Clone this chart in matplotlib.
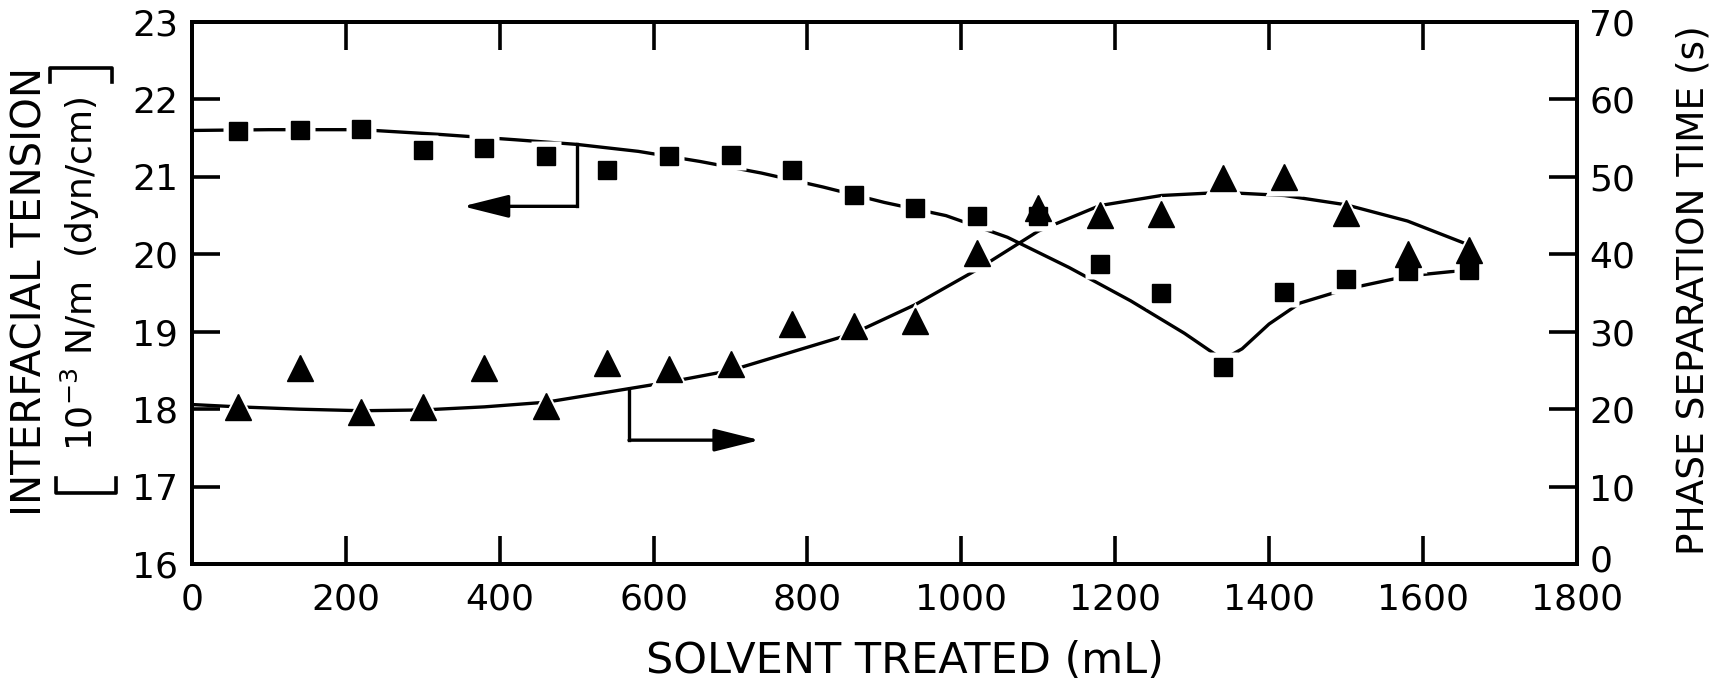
import matplotlib
matplotlib.use("Agg")
import matplotlib.pyplot as plt
import matplotlib.transforms as mtransforms
from matplotlib.lines import Line2D

# measured points (squares: interfacial tension, triangles: phase separation time)
volume = [60, 140, 220, 300, 380, 460, 540, 620, 700, 780, 860, 940, 1020,
          1100, 1180, 1260, 1340, 1420, 1500, 1580, 1660]
tension = [21.59, 21.61, 21.62, 21.35, 21.37, 21.27, 21.09, 21.27, 21.28, 21.09,
           20.77, 20.60, 20.49, 20.50, 19.87, 19.50, 18.55, 19.51, 19.68, 19.78, 19.80]
sep_time = [20.3, 25.3, 19.7, 20.3, 25.3, 20.4, 26.0, 25.2, 25.8, 31.0, 30.8,
            31.4, 40.2, 46.0, 45.1, 45.2, 49.9, 50.0, 45.4, 40.1, 40.6]

# hand-drawn fit curves
fit_vol_t = [0, 100, 220, 320, 420, 500, 580, 660, 740, 820, 900, 980, 1060,
             1140, 1220, 1290, 1340, 1365, 1400, 1440, 1500, 1580, 1660]
fit_tension = [21.60, 21.61, 21.61, 21.55, 21.48, 21.42, 21.33, 21.20, 21.05, 20.87,
               20.67, 20.50, 20.22, 19.83, 19.40, 18.98, 18.64, 18.78, 19.10, 19.37,
               19.55, 19.72, 19.80]
fit_vol_p = [0, 60, 140, 220, 300, 380, 460, 540, 620, 700, 780, 860, 940, 1020,
             1100, 1180, 1260, 1340, 1420, 1500, 1580, 1660]
fit_time = [20.6, 20.3, 20.0, 19.8, 19.9, 20.3, 20.9, 22.2, 23.5, 25.0, 27.4, 29.8,
            33.5, 38.0, 43.0, 46.3, 47.6, 48.0, 47.6, 46.4, 44.3, 41.2]

x_ticks = list(range(0, 1801, 200))
left_ticks = list(range(16, 24))
right_ticks = list(range(0, 71, 10))

# L-shaped pointers: left one refers to left axis, right one to right axis
left_ptr_x, left_ptr_top, left_ptr_bot, left_ptr_tip = 500, 21.42, 20.62, 352
right_ptr_x, right_ptr_top, right_ptr_bot, right_ptr_tip = 568, 22.6, 16.0, 738

plt.rcParams["font.family"] = "DejaVu Sans"

W, H = 1718, 685
fig = plt.figure(figsize=(W / 100, H / 100), dpi=100)
ax = fig.add_axes([0.1118, 0.1766, 0.806, 0.7912])
ax2 = ax.twinx()

ax.set_xlim(0, 1800)
ax.set_ylim(16, 23)
ax2.set_ylim(0, 70)
tr2 = ax2.transData

# curves
ax.plot(fit_vol_t, fit_tension, color="k", lw=2.4, zorder=2)
ax.plot(fit_vol_p, fit_time, color="k", lw=2.4, zorder=2, transform=tr2)

# white halos make the lines break around the symbols
ax.plot(volume, tension, ls="none", marker="s", ms=22, mfc="white", mec="none", zorder=3)
ax.plot(volume, sep_time, ls="none", marker="^", ms=27, mfc="white", mec="none",
        zorder=3, transform=tr2)

ax.plot(volume, tension, ls="none", marker="s", ms=13.5, color="k", zorder=4)
ax.plot(volume, sep_time, ls="none", marker="^", ms=19, color="k", zorder=4,
        transform=tr2)

# pointers
arrow = dict(arrowstyle="-|>,head_length=1.0,head_width=0.25", color="k", lw=2.4,
             mutation_scale=28, shrinkA=0, shrinkB=0)
ax.plot([left_ptr_x, left_ptr_x], [left_ptr_top, left_ptr_bot], color="k", lw=2.4, zorder=5)
ax.annotate("", xy=(left_ptr_tip, left_ptr_bot), xytext=(left_ptr_x, left_ptr_bot),
            arrowprops=arrow, zorder=5)
ax2.plot([right_ptr_x, right_ptr_x], [right_ptr_top, right_ptr_bot], color="k", lw=2.4)
ax2.annotate("", xy=(right_ptr_tip, right_ptr_bot), xytext=(right_ptr_x, right_ptr_bot),
             arrowprops=arrow)

ax.set_xticks(x_ticks)
ax.set_yticks(left_ticks)
ax2.set_yticks(right_ticks)

ax.tick_params(axis="both", direction="in", length=20, width=2.6, labelsize=26,
               top=True, right=False)
ax.tick_params(axis="x", pad=13)
ax.tick_params(axis="y", pad=10)
ax2.tick_params(axis="y", direction="in", length=20, width=2.6, labelsize=26, pad=9)

# the right-hand "0" sits a little above the corner, clear of "1800"
zero_lbl = ax2.yaxis.get_major_ticks()[0].label2
zero_lbl.set_transform(zero_lbl.get_transform()
                       + mtransforms.ScaledTranslation(0, 4 / 72, fig.dpi_scale_trans))

for a in (ax, ax2):
    for sp in a.spines.values():
        sp.set_linewidth(2.8)

fig.text(0.527, 0.035, "SOLVENT TREATED (mL)", ha="center", va="center", fontsize=31)
fig.text(0.018, 0.574, "INTERFACIAL TENSION", rotation=90, ha="center", va="center",
         fontsize=29)
fig.text(0.047, 0.60, r"10$^{-3}$ N/m  (dyn/cm)", rotation=90, ha="center", va="center",
         fontsize=26)
fig.text(0.9855, 0.577, "PHASE SEPARATION TIME (s)", rotation=90, ha="center",
         va="center", fontsize=27)

# tall brackets around the unit line (pixel positions -> figure fraction)
def px_line(xs, ys):
    fig.add_artist(Line2D([x / W for x in xs], [(H - y) / H for y in ys],
                          color="k", lw=2.6, transform=fig.transFigure))

px_line([50, 50, 112, 112], [82, 68, 68, 82])
px_line([56, 56, 116, 116], [478, 493, 493, 478])

fig.savefig("out.png", dpi=100)
